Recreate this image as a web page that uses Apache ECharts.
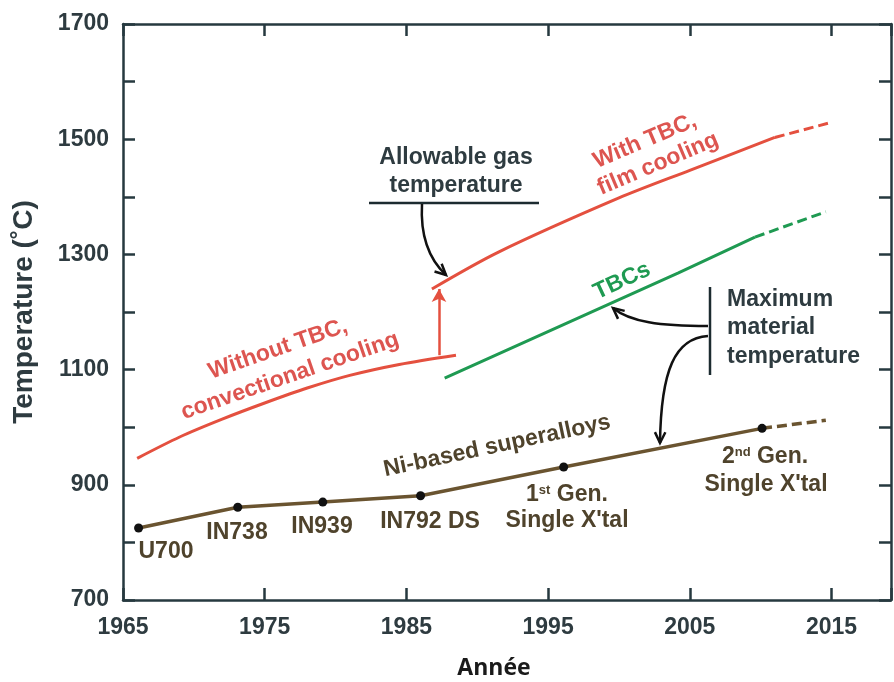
<!DOCTYPE html>
<html><head><meta charset="utf-8">
<script src="https://cdn.jsdelivr.net/npm/echarts@6/dist/echarts.min.js"></script>
<style>html,body{margin:0;padding:0;background:#fff}#c{width:894px;height:682px}</style>
</head><body><div id="c"></div>
<script>
// ---- data ----
const convYears = [1966, 1969, 1972, 1975, 1978, 1981, 1984.5, 1988.5];
const convTemps = [946, 983, 1014, 1042, 1068, 1090, 1109, 1125];
const filmYears = [1986.8, 1991.5, 2000, 2005, 2011];
const filmTemps = [1240, 1304, 1398, 1446, 1503];
const filmDashYears = [2011, 2014.8];
const filmDashTemps = [1503, 1528];
const tbcYears = [1987.7, 2004.2, 2009.6];
const tbcTemps = [1085, 1268, 1330];
const tbcDashYears = [2009.6, 2014.6];
const tbcDashTemps = [1330, 1374];
const alloyYears = [1966.1, 1973.1, 1979.1, 1986, 1996.1, 2010.1];
const alloyTemps = [825, 861, 870, 881, 931, 998];
const alloyDashYears = [2010.1, 2014.6];
const alloyDashTemps = [998, 1012];
const jumpYear = 1987.3;
const jumpFrom = 1125;
const jumpTo = 1240;
const xTicks = [1965, 1975, 1985, 1995, 2005, 2015];
const yTicks = [700, 900, 1100, 1300, 1500, 1700];

const zip = (a, b) => a.map((v, i) => [v, b[i]]);

const RED = '#e4503f', GREEN = '#1f9a52', BROWN = '#6a5430', AX = '#26393f';
const TXT = '#2e3b40', ALLOY_TXT = '#4f432c', RED_TXT = '#dd5550';
const FF = '"Liberation Sans", Arial, sans-serif';

function T(x, y, text, o) {
  o = o || {};
  return { type: 'text', x: x, y: y, rotation: (o.rot || 0) * Math.PI / 180, z: 100,
    style: { text: text, fill: o.fill || TXT, fontSize: o.size || 23, fontWeight: 'bold',
      fontFamily: o.family || FF, align: o.align || 'center', verticalAlign: 'middle',
      rich: o.rich } };
}
function arrowHead(tx, ty, fx, fy) {
  const a = Math.atan2(ty - fy, tx - fx), L = 12, s = 0.45;
  return { type: 'polyline', z: 100, shape: { points: [
    [tx - L * Math.cos(a - s), ty - L * Math.sin(a - s)], [tx, ty],
    [tx - L * Math.cos(a + s), ty - L * Math.sin(a + s)]] },
    style: { stroke: '#111', lineWidth: 2.5, fill: null } };
}
function curve(x1, y1, c1x, c1y, c2x, c2y, x2, y2) {
  return { type: 'bezierCurve', z: 100, shape: { x1: x1, y1: y1, cpx1: c1x, cpy1: c1y, cpx2: c2x, cpy2: c2y, x2: x2, y2: y2 },
    style: { stroke: '#111', lineWidth: 2.5, fill: null } };
}
function seg(x1, y1, x2, y2) {
  return { type: 'line', z: 100, shape: { x1: x1, y1: y1, x2: x2, y2: y2 }, style: { stroke: '#1c2b30', lineWidth: 2.5 } };
}

const supRich = { a: { fontSize: 23, fontWeight: 'bold', fontFamily: FF, fill: ALLOY_TXT },
                  s: { fontSize: 13, fontWeight: 'bold', fontFamily: FF, fill: ALLOY_TXT, verticalAlign: 'top', padding: [0, 0, 10, 0] } };

const axisCommon = {
  type: 'value', splitLine: { show: false },
  axisLine: { show: true, lineStyle: { color: AX, width: 2.5 } },
  axisTick: { show: true, inside: true, length: 12, lineStyle: { color: AX, width: 2.5 } }
};

const chart = echarts.init(document.getElementById('c'), null, { renderer: 'canvas' });
chart.setOption({
  animation: false,
  backgroundColor: '#fff',
  grid: { left: 123, right: -1, top: 24, bottom: 82 },
  xAxis: [
    Object.assign({}, axisCommon, { min: 1965, max: 2019.2, interval: 10, position: 'bottom',
      axisLabel: { margin: 16, color: TXT, fontSize: 23, fontWeight: 'bold', fontFamily: FF,
        formatter: v => xTicks.indexOf(v) >= 0 ? String(v) : '' } }),
    Object.assign({}, axisCommon, { min: 1965, max: 2019.2, interval: 10, position: 'top', axisLabel: { show: false } })
  ],
  yAxis: [
    Object.assign({}, axisCommon, { min: 700, max: 1700, interval: 100, position: 'left',
      name: 'Temperature (˚C)', nameLocation: 'middle', nameGap: 85,
      nameTextStyle: { color: TXT, fontSize: 28, fontWeight: 'bold', fontFamily: FF },
      axisLabel: { margin: 14, color: TXT, fontSize: 23, fontWeight: 'bold', fontFamily: FF,
        formatter: v => yTicks.indexOf(v) >= 0 ? String(v) : '' } }),
    Object.assign({}, axisCommon, { min: 700, max: 1700, interval: 100, position: 'right', axisLabel: { show: false } })
  ],
  series: [
    { type: 'line', name: 'Without TBC', data: zip(convYears, convTemps), smooth: 0.3, showSymbol: false,
      lineStyle: { color: RED, width: 3 },
      markLine: { silent: true, symbol: ['none', 'arrow'], symbolSize: [11, 13], label: { show: false },
        lineStyle: { color: RED, width: 2.5, type: 'solid' },
        data: [[{ coord: [jumpYear, jumpFrom] }, { coord: [jumpYear, jumpTo] }]] } },
    { type: 'line', name: 'With TBC', data: zip(filmYears, filmTemps), smooth: 0.3, showSymbol: false,
      lineStyle: { color: RED, width: 3 } },
    { type: 'line', name: 'With TBC (proj.)', data: zip(filmDashYears, filmDashTemps), showSymbol: false,
      lineStyle: { color: RED, width: 3, type: [10, 5] } },
    { type: 'line', name: 'TBCs', data: zip(tbcYears, tbcTemps), showSymbol: false,
      lineStyle: { color: GREEN, width: 3 } },
    { type: 'line', name: 'TBCs (proj.)', data: zip(tbcDashYears, tbcDashTemps), showSymbol: false,
      lineStyle: { color: GREEN, width: 3, type: [10, 5] } },
    { type: 'line', name: 'Ni superalloys (proj.)', data: zip(alloyDashYears, alloyDashTemps), showSymbol: false,
      lineStyle: { color: BROWN, width: 3.5, type: [10, 5] } },
    { type: 'line', name: 'Ni superalloys', data: zip(alloyYears, alloyTemps), symbol: 'circle', symbolSize: 9,
      showSymbol: true, itemStyle: { color: '#111', borderWidth: 0 }, lineStyle: { color: BROWN, width: 3.5 } }
  ],
  graphic: [
    // red labels
    T(278, 349, 'Without TBC,', { rot: 19, fill: RED_TXT }),
    T(290, 376, 'convectional cooling', { rot: 19, fill: RED_TXT }),
    T(645, 141, 'With TBC,', { rot: 23, fill: RED_TXT }),
    T(658, 164, 'film cooling', { rot: 23, fill: RED_TXT }),
    T(622, 281, 'TBCs', { rot: 25, fill: GREEN }),
    // allowable gas temperature
    T(456, 158, 'Allowable gas'),
    T(456, 186, 'temperature'),
    seg(369, 203, 539, 203),
    curve(422, 204, 420, 240, 432, 262, 446, 275),
    arrowHead(446, 275, 432, 262),
    // maximum material temperature
    T(727, 300, 'Maximum', { align: 'left' }),
    T(727, 328, 'material', { align: 'left' }),
    T(727, 357, 'temperature', { align: 'left' }),
    seg(710, 287, 710, 375),
    curve(708, 326, 660, 326, 630, 322, 613, 308),
    arrowHead(613, 308, 630, 322),
    curve(708, 336, 675, 338, 661, 370, 660, 443),
    arrowHead(660, 443, 661, 370),
    // superalloy labels
    T(497, 446, 'Ni-based superalloys', { rot: 12, fill: ALLOY_TXT }),
    T(166, 552, 'U700', { fill: ALLOY_TXT }),
    T(237, 533, 'IN738', { fill: ALLOY_TXT }),
    T(322, 527, 'IN939', { fill: ALLOY_TXT }),
    T(430, 522, 'IN792 DS', { fill: ALLOY_TXT }),
    T(567, 495, '{a|1}{s|st}{a| Gen.}', { fill: ALLOY_TXT, rich: supRich }),
    T(567, 521, "Single X'tal", { fill: ALLOY_TXT }),
    T(765, 457, '{a|2}{s|nd}{a| Gen.}', { fill: ALLOY_TXT, rich: supRich }),
    T(766, 485, "Single X'tal", { fill: ALLOY_TXT }),
    // x axis title
    T(494, 668, 'Année', { size: 23, fill: '#1a1a1a', family: '"Open Sans", "Noto Sans", sans-serif' })
  ]
});
</script></body></html>
